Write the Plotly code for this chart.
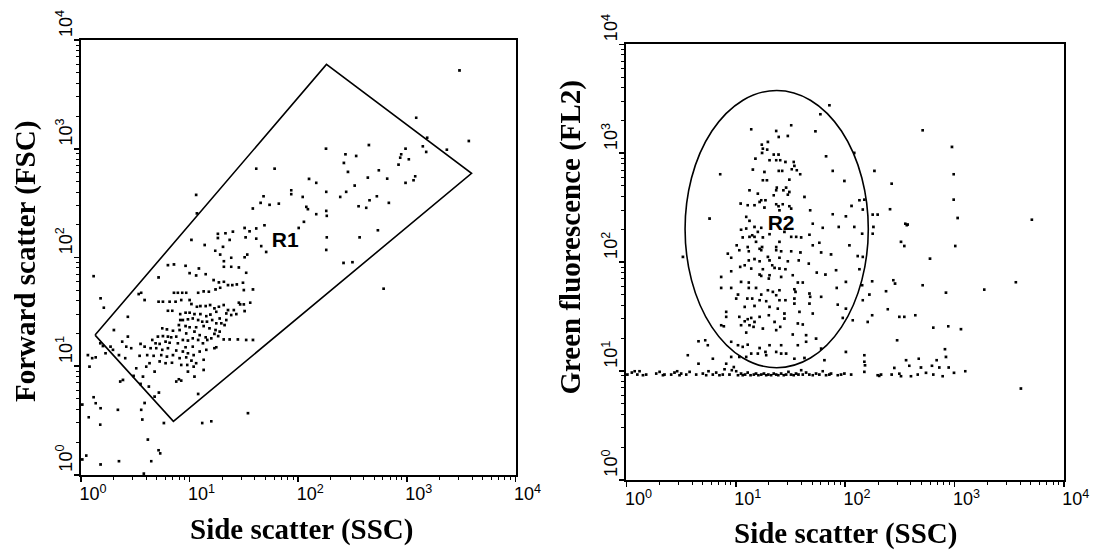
import plotly.graph_objects as go

# ---------------- Left panel: FSC vs SSC (gate R1) ----------------
ssc_left = [
    13.9, 20.5, 17.4, 19.3, 34.3, 24.4, 32.4, 20.9, 6.38, 7.25, 9.27, 12.3, 10.1, 14.2, 28.7, 20.9,
    24.4, 33.5, 5.23, 11.6, 16.8, 18.8, 20.9, 22.8, 25.0, 27.5, 31.3, 31.9, 38.7, 1.32, 1.53, 1.64,
    3.62, 3.43, 7.25, 7.88, 8.64, 9.40, 12.1, 13.6, 15.2, 17.5, 19.3, 5.74, 5.23, 6.61, 7.50, 8.46,
    10.1, 10.5, 11.8, 12.7, 14.2, 15.6, 17.1, 18.8, 20.8, 22.8, 25.8, 28.7, 29.5, 31.9, 36.5, 32.4,
    27.2, 24.4, 22.0, 6.38, 7.00, 8.28, 9.27, 10.1, 11.2, 12.7, 14.4, 15.7, 17.8, 19.1, 19.8, 22.0,
    21.2, 8.28, 8.76, 9.75, 10.8, 12.1, 13.2, 14.6, 16.3, 17.8, 8.05, 9.27, 10.1, 11.6, 13.6, 15.4,
    17.5, 19.1, 5.66, 6.25, 7.10, 8.17, 9.40, 11.2, 12.5, 14.2, 14.7, 16.0, 17.1, 18.5, 20.8, 5.16,
    5.74, 6.38, 6.84, 7.61, 8.76, 9.75, 10.8, 12.1, 13.4, 4.58, 4.91, 5.35, 6.07, 6.61, 7.88, 9.27,
    10.8, 17.1, 17.8, 23.6, 28.1, 33.5, 38.7, 3.89, 4.42, 4.98, 5.66, 6.38, 7.61, 8.76, 9.75, 11.0,
    12.5, 14.4, 4.11, 4.71, 5.54, 6.25, 7.10, 8.17, 9.40, 10.5, 11.6, 13.6, 5.35, 6.07, 6.95, 8.46,
    9.61, 11.0, 9.75, 11.2, 13.6, 8.05, 7.61, 8.46, 2.42, 2.64, 2.73, 2.93, 3.57, 3.50, 1.99, 2.26,
    2.58, 1.89, 1.61, 1.52, 1.70, 1.38, 1.28, 1.21, 1.17, 3.26, 4.03, 4.32, 4.81, 3.76, 4.26, 4.81,
    5.27, 2.32, 2.46, 3.08, 3.57, 12.1, 1.32, 1.38, 1.53, 3.62, 34.8, 1.19, 2.21, 2.03, 2.73, 3.89,
    1231, 182, 452, 275, 345, 982, 896, 1054, 1418, 1522, 847, 266, 290, 558, 41.5, 61.2,
    127, 148, 442, 666, 982, 1164, 1205, 334, 279, 246, 183, 87.1, 87.1, 111, 48.4, 45.5,
    55.0, 67.0, 535, 458, 427, 363, 690, 120, 124, 183, 148, 185, 38.6, 114, 102, 49.4,
    41.5, 547, 371, 185, 183, 41.5, 46.1, 51.2,
    3083, 1555, 877, 2360, 3760, 617,
    5.86, 1.52, 13.2, 16.0, 4.17, 5.23, 5.42, 4.48, 2.26, 1.53, 1.13, 1.04, 3.83, 3.71, 3.89, 1.04,
    11.6, 11.8, 10.5, 18.4, 21.6, 25.3, 32.4, 36.0, 33.1, 18.4, 23.6, 264, 319,
]
fsc_left = [
    131, 126, 116, 107, 107, 100, 101, 93, 85.5, 86.8, 84.3, 79.7, 72.2, 70.6, 81.4, 82.6,
    82.6, 72.7, 65.9, 68.7, 62.3, 59.3, 60.1, 56.0, 56.0, 56.8, 58.9, 50.4, 51.1, 67.7, 42.3, 34.7,
    47.6, 46.3, 47.6, 47.6, 47.6, 47.6, 47.6, 49.0, 48.7, 51.1, 52.9, 39.4, 39.4, 39.4, 39.4, 40.8,
    40.8, 37.5, 35.4, 35.9, 35.9, 36.7, 34.2, 35.4, 36.7, 33.0, 33.0, 38.6, 37.2, 37.2, 38.6, 32.3,
    30.3, 29.7, 30.7, 32.5, 32.5, 30.3, 31.2, 31.2, 30.3, 30.3, 29.0, 30.0, 31.8, 27.6, 24.9, 26.7,
    24.0, 26.7, 26.7, 27.1, 27.6, 26.7, 25.8, 25.8, 26.7, 24.9, 24.0, 23.5, 22.9, 22.9, 23.5, 22.4,
    21.6, 20.9, 22.4, 21.9, 21.3, 21.6, 20.1, 20.9, 19.4, 18.5, 17.5, 18.1, 19.9, 19.0, 17.7, 18.8,
    19.0, 18.8, 18.5, 18.8, 17.5, 17.3, 18.1, 17.5, 16.3, 17.5, 16.3, 16.1, 16.9, 16.5, 16.3, 15.0,
    15.2, 14.7, 15.0, 17.7, 17.7, 17.5, 17.5, 15.2, 14.7, 14.7, 14.2, 14.7, 14.0, 13.7, 13.2, 12.7,
    13.7, 14.2, 12.7, 12.5, 12.7, 12.3, 12.7, 11.9, 12.1, 11.3, 10.7, 11.5, 11.1, 10.7, 10.8, 10.3,
    10.3, 9.95, 8.95, 8.05, 9.27, 7.61, 7.25, 7.40, 16.9, 15.2, 18.8, 14.7, 16.1, 12.5, 14.2, 12.7,
    11.9, 15.2, 15.4, 16.3, 13.2, 12.1, 11.9, 9.95, 12.7, 9.6, 9.95, 10.7, 8.95, 8.05, 6.52, 5.27,
    5.74, 7.25, 7.50, 8.17, 6.89, 5.57, 5.20, 4.58, 4.12, 3.98, 3.71, 3.40, 3.98, 21.6, 28.6, 40.8,
    1945, 1010, 1091, 896, 865, 1010, 896, 806, 1061, 942, 720, 746, 617, 638, 661, 661,
    532, 489, 547, 535, 489, 517, 562, 462, 404, 363, 404, 418, 385, 363, 368, 320,
    307, 315, 368, 338, 288, 298, 320, 294, 280, 270, 252, 243, 284, 214, 188, 199,
    186, 179, 154, 154, 118, 150, 128, 113,
    5300, 1274, 835, 988, 1188, 51.9,
    3.01, 2.91, 3.01, 3.12, 2.12, 1.69, 1.58, 1.34, 1.34, 1.25, 1.51, 1.39, 1.03, 3.24, 4.60, 4.45,
    379, 256, 146, 166, 168, 174, 188, 175, 154, 152, 146, 89.6, 91,
]

# R1 gate polygon vertices (SSC, FSC)
r1_ssc = [1.35, 182, 3940, 7.1, 1.35]
r1_fsc = [19.3, 5970, 594, 3.1, 19.3]
r1_label = (76, 138)

# ---------------- Right panel: FL2 vs SSC (gate R2) ----------------
ssc_right = [
    # upper ellipse region
    72.8, 60.2, 32.5, 14.0, 23.7, 30.3, 25.0, 54.2, 19.9, 17.5, 17.9, 19.6, 17.6, 22.5, 24.9, 15.3,
    20.6, 23.7, 25.8, 28.8, 34.3, 34.8, 67.8, 123, 14.5, 18.5, 25.0, 26.9, 32.9, 36.6, 39.3, 78.0,
    188, 7.28, 17.9, 19.5, 31.3, 99.8, 24.0, 29.2, 13.5, 16.1, 23.7, 27.6, 31.3, 22.5, 30.3, 17.3,
    18.9, 43.0, 137, 152, 11.2, 13.0, 15.0, 18.5, 16.7, 23.7, 24.9, 27.2, 31.3, 32.5, 48.5, 116,
    147, 78.0, 103, 181, 201, 5.82, 12.6, 13.5, 25.4, 51.2, 63.2, 88.5, 123, 184, 11.3, 12.6,
    15.0, 16.1, 17.3, 14.3, 11.7, 13.5, 15.0, 15.5, 17.9, 20.6, 28.2, 32.5, 36.1, 40.1, 47.8, 145,
    181, 10.3, 13.0, 17.6, 23.7, 25.4, 51.2, 58.9, 111, 16.7,
    # lower ellipse region
    8.55, 10.9, 13.3, 17.3, 23.7, 26.3, 32.5, 39.5, 61.1, 75.3, 132, 147, 3.32, 9.18, 13.3, 15.0,
    16.7, 19.9, 20.6, 25.4, 30.3, 38.1, 47.1, 11.1, 12.2, 14.0, 17.9, 21.8, 22.9, 25.4, 28.8, 55.7,
    66.9, 83.7, 137, 9.18, 16.7, 17.3, 20.6, 7.43, 11.3, 13.3, 13.3, 20.3, 26.3, 33.6, 37.4, 41.5,
    7.43, 9.18, 15.5, 19.9, 22.1, 25.4, 23.7, 34.8, 35.6, 47.8, 48.5, 61.1, 84.9, 103, 145, 179,
    169, 10.6, 10.2, 12.9, 14.3, 17.3, 16.7, 19.2, 25.4, 28.8, 34.8, 34.8, 47.8, 147, 12.2, 15.0,
    20.6, 24.5, 28.2, 38.7, 51.2, 86.7, 103, 8.26, 8.26, 10.9, 12.2, 13.0, 14.0, 15.0, 16.7, 20.3,
    22.9, 28.2, 37.4, 41.5, 96.4, 119, 179, 163, 7.43, 7.87, 11.3, 13.5, 14.7, 12.6, 17.9, 23.7,
    25.8, 33.6, 44.5, 54.9, 44.5, 37.4, 26.3, 20.6, 18.9, 16.7, 13.0, 11.7, 10.6, 10.9, 14.0, 16.1,
    19.2, 23.7, 26.3, 29.2, 34.8, 43.0, 3.68, 4.61, 5.31, 5.61, 9.18, 61.1, 103, 152, 152, 6.24,
    8.26, 9.18, 12.6,
    # band just below 10^1
    1.03, 1.13, 1.20, 1.27, 1.33, 1.43, 1.53, 1.89, 2.03, 2.18, 2.25, 2.59, 2.78, 2.94, 3.09, 3.20,
    3.56, 3.82, 4.39, 4.61, 5.05, 5.42, 5.69, 6.23, 6.69, 7.17, 7.69, 7.98, 8.85, 9.30, 9.70, 10.2,
    10.6, 11.3, 11.7, 12.3, 13.0, 13.8, 14.8, 15.5, 16.3, 17.3, 18.3, 19.2, 20.1, 21.3, 22.5, 23.7,
    24.8, 26.3, 27.8, 29.2, 30.7, 32.4, 34.3, 36.0, 37.9, 40.1, 41.5, 44.5, 47.7, 51.2, 54.9, 58.9,
    63.2, 65.5, 67.8, 72.7, 75.3, 86.7, 93.0, 99.8, 115, 154, 152, 201,
    # right sparse region
    519, 963, 998, 270, 998, 261, 1085, 5190, 360, 379, 371, 329, 353, 1033, 606, 280,
    290, 519, 240, 849, 1903, 3704, 249, 318, 353, 445, 650, 891, 1164, 303, 831, 849,
    697, 632, 738, 898, 1275, 557, 650, 791, 1005, 4117,
    366, 478, 286, 392, 501, 208, 216, 270, 318, 329, 406, 468,
]
fl2_right = [
    2765, 2287, 1811, 1663, 1606, 1445, 1415, 1595, 1274, 1203, 1106, 1083, 1009, 975, 975, 895,
    865, 865, 865, 834, 834, 767, 940, 1009, 710, 675, 690, 690, 715, 700, 643, 690,
    690, 643, 566, 566, 574, 558, 485, 485, 458, 427, 458, 458, 442, 412, 418, 371,
    371, 398, 371, 376, 346, 334, 334, 318, 358, 341, 327, 341, 327, 311, 300, 329,
    305, 276, 264, 274, 274, 252, 261, 240, 300, 226, 207, 211, 211, 211, 199, 204,
    211, 190, 207, 177, 169, 171, 171, 154, 169, 181, 190, 171, 171, 169, 179, 183,
    183, 143, 138, 138, 138, 154, 143, 151, 143, 133,
    120, 129, 126, 129, 129, 126, 126, 123, 123, 118, 114, 112, 112, 110, 104, 107,
    102, 112, 104, 110, 102, 104, 97.2, 90.6, 93.8, 87.5, 86.3, 93.8, 88.7, 87.5, 86.3, 80.4,
    77.1, 84.5, 86.3, 82.6, 77.1, 74.9, 76.0, 73.3, 66.0, 65.1, 58.1, 70.8, 73.3, 76.0, 65.1, 65.1,
    58.1, 58.1, 58.1, 55.3, 53.4, 55.3, 49.8, 56.5, 53.4, 51.6, 48.1, 48.1, 58.1, 66.0, 61.5, 66.8,
    50.5, 50.5, 46.4, 46.4, 46.4, 50.5, 44.8, 43.9, 44.8, 44.8, 46.4, 41.7, 41.7, 44.8, 38.9, 39.7,
    38.9, 37.5, 33.8, 35.0, 33.8, 40.8, 37.5, 35.0, 31.5, 31.5, 28.7, 30.0, 30.8, 28.3, 31.5, 32.6,
    28.3, 30.4, 27.4, 26.8, 30.8, 29.3, 32.6, 28.3, 26.4, 25.8, 26.4, 26.4, 25.5, 22.6, 24.6, 23.8,
    25.5, 21.7, 21.4, 19.9, 18.6, 17.3, 17.3, 17.3, 15.0, 16.3, 17.5, 16.7, 17.3, 13.5, 14.5, 14.5,
    14.0, 15.0, 14.5, 14.5, 13.0, 13.2, 14.0, 18.8, 19.2, 17.3, 18.6, 16.1, 15.0, 14.0, 12.2, 13.0,
    11.7, 13.5, 13.5,
    9.30, 9.70, 9.98, 9.30, 9.98, 9.17, 9.30, 9.50, 9.84, 9.17, 9.30, 9.30, 9.70, 9.98, 9.17, 9.50,
    9.30, 9.84, 9.30, 11.7, 9.50, 9.17, 9.98, 9.30, 9.70, 9.17, 9.30, 10.4, 9.30, 10.2, 10.9, 9.98,
    9.17, 9.50, 9.17, 9.30, 9.70, 9.17, 9.30, 9.50, 9.17, 9.30, 9.50, 9.17, 9.30, 9.17, 9.50, 9.30,
    9.17, 9.50, 9.17, 9.30, 9.84, 9.30, 9.17, 9.50, 9.30, 10.2, 9.30, 9.70, 9.30, 9.17, 9.50, 9.30,
    9.98, 12.6, 9.17, 9.30, 9.50, 9.17, 9.30, 9.50, 9.30, 11.3, 9.84, 9.17,
    1629, 1146, 643, 527, 376, 307, 255, 246, 226, 222, 219, 154, 141, 141, 108, 68.4,
    63.7, 61.5, 54.2, 52.6, 56.1, 65.5, 37.0, 31.5, 31.5, 32.6, 25.1, 25.8, 24.3, 19.2, 15.9, 13.5,
    12.6, 11.2, 10.8, 10.8, 9.98, 9.64, 9.30, 8.98, 9.64, 6.92,
    12.6, 13.0, 10.7, 11.2, 10.8, 9.04, 9.30, 9.30, 9.48, 8.98, 8.98, 9.30,
]

# R2 gate ellipse bounding box (SSC, FL2)
r2_ssc_range = (3.44, 163)
r2_fl2_range = (10.7, 3767)
r2_label = (26, 219)

tick_vals = [1, 10, 100, 1000, 10000]
tick_text = ["10<sup>0</sup>", "10<sup>1</sup>", "10<sup>2</sup>", "10<sup>3</sup>", "10<sup>4</sup>"]
minor_vals = [m * 10 ** k for k in range(4) for m in range(2, 10)]

x_title = "Side scatter (SSC)"
y_title_left = "Forward scatter (FSC)"
y_title_right = "Green fluorescence (FL2)"

W, H = 1093, 556
marker = dict(color="black", size=2.6, symbol="square", line=dict(width=0))
label_font = dict(family="Liberation Sans, Arial, sans-serif", size=21, color="black")

fig = go.Figure()
fig.add_trace(go.Scattergl(x=ssc_left, y=fsc_left, mode="markers", marker=marker,
                           xaxis="x", yaxis="y", showlegend=False, hoverinfo="skip"))
fig.add_trace(go.Scatter(x=r1_ssc, y=r1_fsc, mode="lines", line=dict(color="black", width=1.6),
                         xaxis="x", yaxis="y", showlegend=False, hoverinfo="skip"))
fig.add_trace(go.Scatter(x=[r1_label[0]], y=[r1_label[1]], mode="text", text=["<b>R1</b>"],
                         textfont=label_font, xaxis="x", yaxis="y", showlegend=False, hoverinfo="skip"))

fig.add_trace(go.Scattergl(x=ssc_right, y=fl2_right, mode="markers", marker=marker,
                           xaxis="x2", yaxis="y2", showlegend=False, hoverinfo="skip"))
fig.add_trace(go.Scatter(x=[r2_label[0]], y=[r2_label[1]], mode="text", text=["<b>R2</b>"],
                         textfont=label_font, xaxis="x2", yaxis="y2", showlegend=False, hoverinfo="skip"))

fig.add_shape(type="circle", xref="x2", yref="y2",
              x0=r2_ssc_range[0], x1=r2_ssc_range[1], y0=r2_fl2_range[0], y1=r2_fl2_range[1],
              line=dict(color="black", width=1.6))


def axis(domain, anchor, is_y):
    d = dict(
        type="log", range=[0, 4], domain=domain, anchor=anchor, automargin=False,
        showgrid=False, zeroline=False, showline=True, linecolor="black", linewidth=2,
        mirror=True, ticks="outside", ticklen=5, tickwidth=1.5, tickcolor="black",
        tickmode="array", tickvals=tick_vals, ticktext=tick_text,
        tickfont=dict(family="Liberation Sans, Arial, sans-serif", size=18, color="black"),
        minor=dict(ticks="outside", ticklen=3, tickwidth=1, tickcolor="black", tickvals=minor_vals),
        fixedrange=True,
    )
    if is_y:
        d.update(tickangle=-90, ticklabelshift=-14, ticklabelstandoff=-5)
    else:
        d.update(tickangle=0, ticklabelshift=12, ticklabelstandoff=-3)
    return d


fig.update_layout(
    width=W, height=H, margin=dict(l=0, r=0, t=0, b=0, autoexpand=False),
    paper_bgcolor="white", plot_bgcolor="white",
    xaxis=axis([80.9 / W, 515.5 / W], "y", False),
    yaxis=axis([1 - 474.8 / H, 1 - 40.1 / H], "x", True),
    xaxis2=axis([626.4 / W, 1063.8 / W], "y2", False),
    yaxis2=axis([1 - 479.8 / H, 1 - 44.3 / H], "x2", True),
)

title_font = dict(family="Liberation Serif, Times New Roman, serif", size=29, color="black")
annos = [
    dict(text=f"<b>{x_title}</b>", x=301 / W, y=1 - 529 / H),
    dict(text=f"<b>{x_title}</b>", x=845.5 / W, y=1 - 533 / H),
    dict(text=f"<b>{y_title_left}</b>", x=25 / W, y=1 - 262 / H, textangle=-90),
    dict(text=f"<b>{y_title_right}</b>", x=571 / W, y=1 - 237.6 / H, textangle=-90),
]
for a in annos:
    a.update(xref="paper", yref="paper", showarrow=False, xanchor="center", yanchor="middle", font=title_font)
    fig.add_annotation(**a)

fig.write_html(
    "out.html",
    config={"displayModeBar": False, "staticPlot": True},
    post_script="document.body.style.margin='0';document.body.style.overflow='hidden';",
)
